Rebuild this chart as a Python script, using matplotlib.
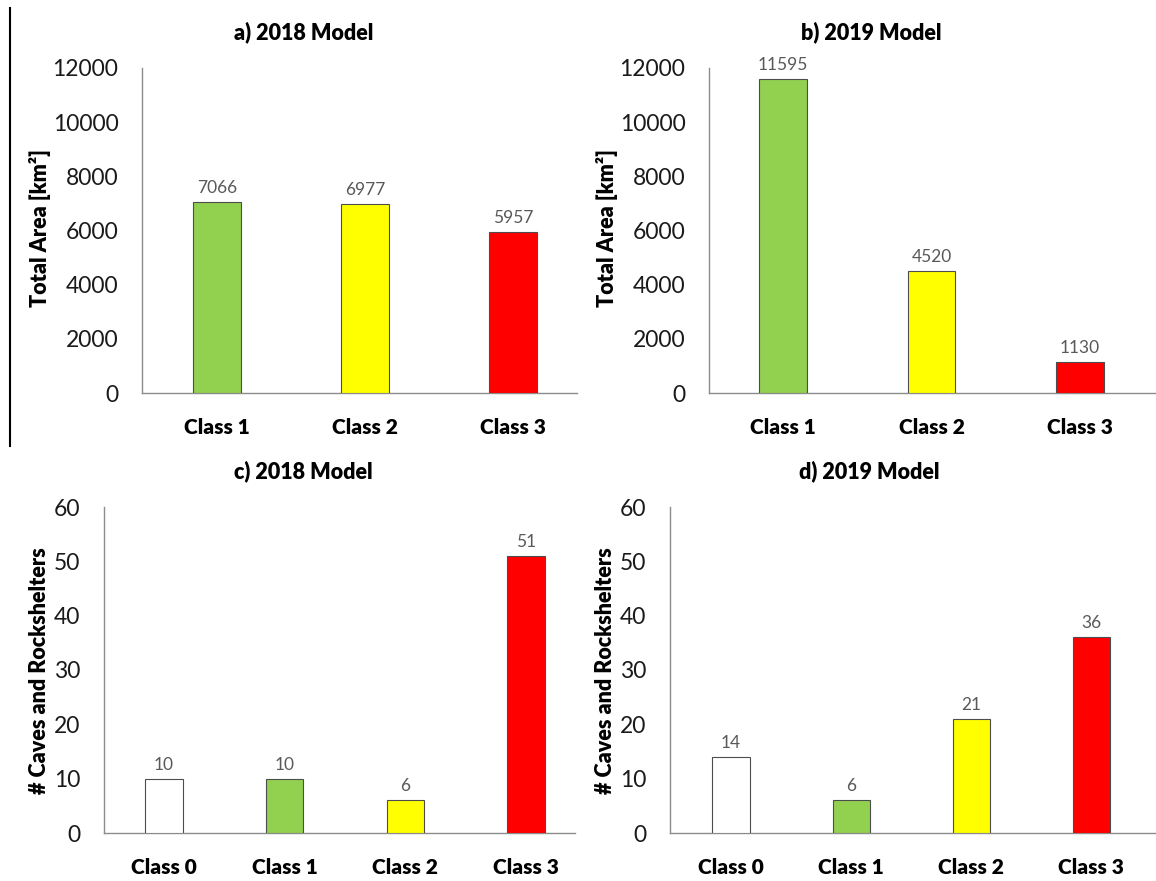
import matplotlib
matplotlib.use("Agg")
import matplotlib.pyplot as plt
from matplotlib.lines import Line2D

plt.rcParams['font.family'] = ['Lato', 'DejaVu Sans']

# areas per susceptibility class (km²)
area_classes = ["Class 1", "Class 2", "Class 3"]
area_2018 = [7066, 6977, 5957]
area_2019 = [11595, 4520, 1130]

# caves and rockshelters per class
site_classes = ["Class 0", "Class 1", "Class 2", "Class 3"]
sites_2018 = [10, 10, 6, 51]
sites_2019 = [14, 6, 21, 36]

area_colors = ["#92D050", "#FFFF00", "#FF0000"]
site_colors = ["#FFFFFF", "#92D050", "#FFFF00", "#FF0000"]

W, H = 1156, 881
BOLD = "heavy"


def px_box(left, right, bottom, top):
    # pixel box -> figure fraction rect
    return [left / W, 1 - bottom / H, (right - left) / W, (bottom - top) / H]


def draw_panel(ax, cats, vals, colors, ymax, step, xlim, width):
    x = list(range(len(cats)))
    bars = ax.bar(x, vals, width=width, color=colors, edgecolor="#4d4d4d",
                  linewidth=0.8, zorder=3)
    for b, v in zip(bars, vals):
        ax.annotate(str(v), (b.get_x() + b.get_width() / 2, v),
                    xytext=(0, 6.5), textcoords="offset points",
                    ha="center", va="baseline", fontsize=12.5, color="#595959")
    ax.set_xlim(*xlim)
    ax.set_ylim(0, ymax)
    ax.set_yticks(range(0, ymax + 1, step))
    ax.set_xticks(x)
    ax.set_xticklabels(cats, fontsize=15, fontweight=BOLD)
    ax.tick_params(axis="y", length=0, pad=17, labelsize=16.5, labelcolor="#1a1a1a")
    ax.tick_params(axis="x", length=0, pad=18)
    for s in ["top", "right"]:
        ax.spines[s].set_visible(False)
    for s in ["left", "bottom"]:
        ax.spines[s].set_color("#8c8c8c")
        ax.spines[s].set_linewidth(1.0)


fig = plt.figure(figsize=(W / 100, H / 100), dpi=100)

ax_a = fig.add_axes(px_box(142, 577, 393, 68))
ax_b = fig.add_axes(px_box(709, 1155, 393, 68))
ax_c = fig.add_axes(px_box(104, 575, 833, 507))
ax_d = fig.add_axes(px_box(670, 1155, 833, 507))

draw_panel(ax_a, area_classes, area_2018, area_colors, 12000, 2000, (-0.507, 2.432), 0.32)
draw_panel(ax_b, area_classes, area_2019, area_colors, 12000, 2000, (-0.498, 2.505), 0.32)
draw_panel(ax_c, site_classes, sites_2018, site_colors, 60, 10, (-0.497, 3.405), 0.31)
draw_panel(ax_d, site_classes, sites_2019, site_colors, 60, 10, (-0.508, 3.53), 0.31)

# panel titles
titles = [("a) 2018 Model", 304, 32), ("b) 2019 Model", 871, 32),
          ("c) 2018 Model", 303, 471), ("d) 2019 Model", 869, 471)]
for t, xp, yp in titles:
    fig.text(xp / W, 1 - yp / H, t, ha="center", va="center",
             fontsize=15.5, fontweight=BOLD)

# y axis labels
ylabels = [("Total Area [km²]", 40, 228), ("Total Area [km²]", 607, 228),
           ("# Caves and Rockshelters", 39, 671), ("# Caves and Rockshelters", 606, 671)]
for t, xp, yp in ylabels:
    fig.text(xp / W, 1 - yp / H, t, ha="center", va="center", rotation=90,
             fontsize=15.5, fontweight=BOLD)

# separator line on the left of the top row
fig.add_artist(Line2D([9.5 / W, 9.5 / W], [1 - 8 / H, 1 - 446 / H],
                      transform=fig.transFigure, color="black", linewidth=1.5))

fig.savefig("out.png", dpi=100)
